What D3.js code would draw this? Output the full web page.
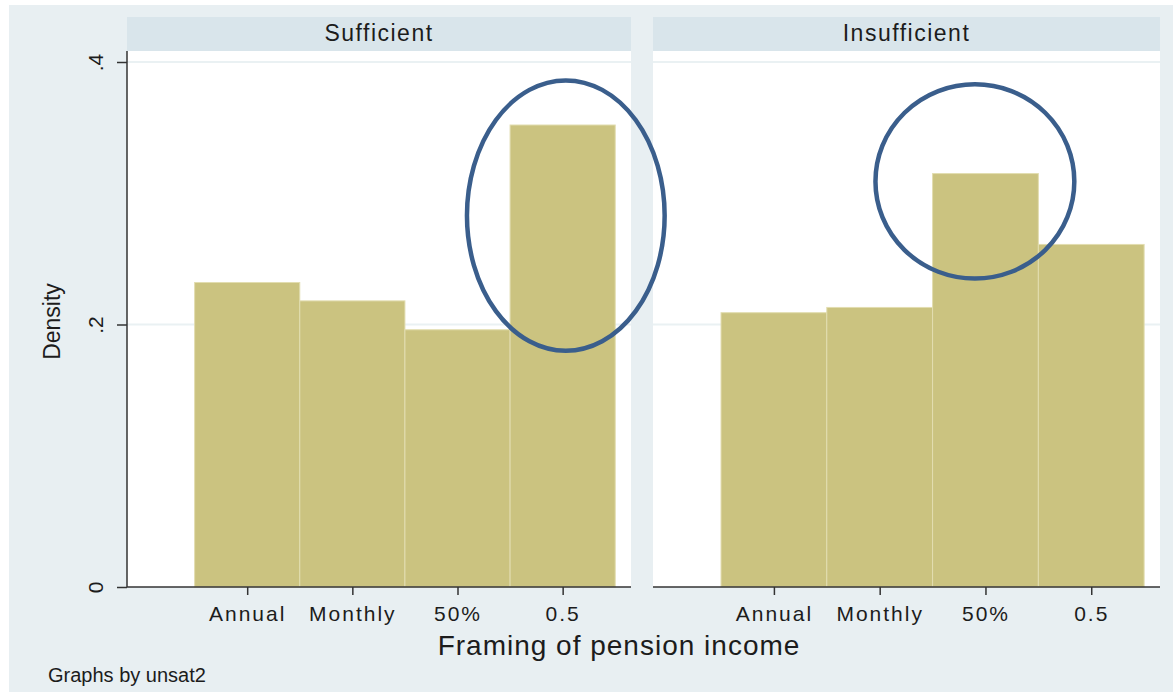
<!DOCTYPE html>
<html>
<head>
<meta charset="utf-8">
<script src="https://cdn.jsdelivr.net/npm/d3@7"></script>
<style>
  body { margin: 0; background: #fff; }
  text { font-family: "Liberation Sans", Arial, sans-serif; fill: #1c1c1c; }
</style>
</head>
<body>
<div id="chart"></div>
<script>
// data
const categories = ["Annual", "Monthly", "50%", "0.5"];
const panelNames = ["Sufficient", "Insufficient"];
const sufficientDensity = [0.232, 0.218, 0.196, 0.352];
const insufficientDensity = [0.209, 0.213, 0.315, 0.261];
const yTickValues = [0, 0.2, 0.4];
const yTickLabels = ["0", ".2", ".4"];

// highlight ellipses, in data units: [centre x, centre y, radius x, radius y]
const highlights = [[4.03, 0.283, 0.94, 0.103], [2.9, 0.309, 0.94, 0.074]];

const width = 1173, height = 692;

// panel layout
const panelLeft = [127, 653],
    panelWidth = [504, 507],
    headerTop = 17,
    plotTop = 51,
    axisY = 587,
    topTickY = 62;

const svg = d3.select("#chart").append("svg")
  .attr("width", width)
  .attr("height", height);

// graph region
svg.append("rect")
  .attr("x", 9).attr("y", 5)
  .attr("width", width - 9).attr("height", height - 5)
  .attr("fill", "#e8eff2");

const y = d3.scaleLinear().domain([0, 0.4]).range([axisY, topTickY]);

const seriesList = [sufficientDensity, insufficientDensity];
const xScales = [];

panelNames.forEach((name, p) => {
  const left = panelLeft[p], w = panelWidth[p];
  const x = d3.scaleLinear().domain([-0.143, 4.65]).range([left, left + w]);
  xScales.push(x);

  // header strip
  svg.append("rect")
    .attr("x", left).attr("y", headerTop)
    .attr("width", w).attr("height", plotTop - headerTop)
    .attr("fill", "#d9e5eb");
  svg.append("text")
    .attr("x", left + w / 2)
    .attr("y", (headerTop + plotTop) / 2 + 7)
    .attr("text-anchor", "middle")
    .style("font-size", "23px")
    .style("letter-spacing", "1.5px")
    .text(name);

  // plot area
  svg.append("rect")
    .attr("x", left).attr("y", plotTop)
    .attr("width", w).attr("height", axisY - plotTop)
    .attr("fill", "#fff");

  // gridlines
  svg.append("g")
    .selectAll("line")
    .data(yTickValues.filter(v => v > 0))
    .enter()
    .append("line")
    .attr("x1", left).attr("x2", left + w)
    .attr("y1", d => y(d)).attr("y2", d => y(d))
    .attr("stroke", "#eaf1f3")
    .attr("stroke-width", 2);

  // bars
  svg.append("g")
    .selectAll("rect")
    .data(seriesList[p])
    .enter()
    .append("rect")
    .attr("x", (d, i) => x(i + 0.5))
    .attr("width", (d, i) => x(i + 1.5) - x(i + 0.5))
    .attr("y", d => y(d))
    .attr("height", d => y(0) - y(d))
    .attr("fill", "#cbc380")
    .attr("stroke", "#e2ddb0")
    .attr("stroke-width", 1);

  // x axis
  const xAxis = d3.axisBottom(x)
    .tickValues(categories.map((c, i) => i + 1))
    .tickFormat((d, i) => categories[i])
    .tickSize(8)
    .tickPadding(11);
  const gx = svg.append("g")
    .attr("transform", `translate(0,${axisY})`)
    .call(xAxis);
  gx.select(".domain").remove();
  gx.append("line")
    .attr("x1", left).attr("x2", left + w)
    .attr("stroke", "#333").attr("stroke-width", 1.5);
  gx.selectAll(".tick line").attr("stroke", "#333").attr("stroke-width", 1.5);
  gx.selectAll(".tick text")
    .style("font-size", "21px")
    .style("letter-spacing", "2px")
    .attr("fill", "#1c1c1c")
    .attr("font-family", null);
});

// circled bars, drawn on top of both panels
svg.append("g")
  .selectAll("ellipse")
  .data(highlights)
  .enter()
  .append("ellipse")
  .attr("cx", (h, p) => xScales[p](h[0]))
  .attr("cy", h => y(h[1]))
  .attr("rx", (h, p) => xScales[p](h[2]) - xScales[p](0))
  .attr("ry", h => y(0) - y(h[3]))
  .attr("fill", "none")
  .attr("stroke", "#3a5e8c")
  .attr("stroke-width", 4.5);

// y axis on the left panel
const yAxis = d3.axisLeft(y)
  .tickValues(yTickValues)
  .tickFormat((d, i) => yTickLabels[i])
  .tickSize(10);
const gy = svg.append("g")
  .attr("transform", `translate(${panelLeft[0]},0)`)
  .call(yAxis);
gy.select(".domain").remove();
gy.append("line")
  .attr("y1", plotTop).attr("y2", axisY)
  .attr("stroke", "#333").attr("stroke-width", 1.5);
gy.selectAll(".tick line").attr("stroke", "#333").attr("stroke-width", 1.5);
gy.selectAll(".tick text")
  .attr("x", null).attr("dy", null)
  .attr("text-anchor", "middle")
  .attr("transform", "translate(-31,0) rotate(-90) translate(0,7)")
  .style("font-size", "21px")
  .attr("fill", "#1c1c1c")
  .attr("font-family", null);

// axis titles
svg.append("text")
  .attr("transform", `translate(60,${y(0.2) - 3}) rotate(-90)`)
  .attr("text-anchor", "middle")
  .style("font-size", "23px")
  .text("Density");

svg.append("text")
  .attr("x", 619)
  .attr("y", 655)
  .attr("text-anchor", "middle")
  .style("font-size", "28px")
  .style("letter-spacing", "1px")
  .text("Framing of pension income");

svg.append("text")
  .attr("x", 48)
  .attr("y", 682)
  .style("font-size", "20px")
  .text("Graphs by unsat2");
</script>
</body>
</html>
